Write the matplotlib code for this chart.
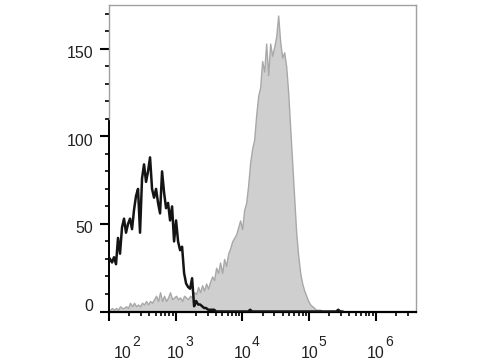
import numpy as np
import matplotlib.pyplot as plt
from matplotlib.transforms import ScaledTranslation

plt.rcParams['font.family'] = ['Liberation Sans', 'DejaVu Sans']

# histogram channels, log10 of intensity at bin centres (2.015, 2.045, ...)
bin_start = 2.015
bin_step = 0.03

# unstained control (black outline)
control_counts = [
    30, 28, 31, 27, 42, 33, 48, 53, 45, 50,
    53, 47, 58, 66, 70, 45, 76, 84, 74, 80,
    88, 70, 65, 70, 62, 56, 80, 68, 59, 62,
    52, 60, 40, 52, 40, 35, 37, 22, 16, 14,
    13, 19, 3, 6, 4, 4, 3, 2, 2, 1,
    1, 1, 1, 0, 0, 0, 0, 0, 0, 0,
    0, 0, 0, 0, 0, 0, 0, 0, 0, 0,
    1, 0, 0, 0, 0, 0, 0, 0, 0, 0,
    0, 0, 0, 0, 0, 0, 0, 0, 0, 0,
    0, 0, 0, 0, 0, 0, 0, 0, 0, 0,
    0, 0, 0, 0, 0, 0, 0, 0, 0, 0,
    0, 0, 0, 0, 1, 0, 0,
]

# stained sample (grey filled)
stained_counts = [
    1, 2, 1, 2, 1, 3, 2, 2, 3, 2,
    5, 3, 5, 3, 4, 3, 5, 4, 6, 4,
    6, 5, 7, 9, 6, 11, 6, 9, 6, 8,
    11, 7, 8, 9, 7, 8, 6, 9, 8, 7,
    9, 8, 11, 10, 14, 11, 15, 12, 16, 13,
    17, 20, 18, 25, 22, 28, 22, 30, 26, 33,
    36, 40, 42, 44, 48, 52, 47, 58, 62, 72,
    85, 93, 98, 112, 123, 128, 143, 137, 153, 135,
    153, 146, 151, 157, 169, 154, 145, 148, 140, 125,
    105, 85, 65, 45, 32, 22, 16, 12, 9, 6,
    4, 3, 2, 1, 1, 1, 0,
]

y_major = [0, 50, 100, 150]
y_minor = [10, 20, 30, 40, 60, 70, 80, 90, 110, 120, 130, 140, 160, 170]
decades = [2, 3, 4, 5, 6]


def bin_centres(counts):
    return 10 ** (bin_start + bin_step * np.arange(len(counts)))


def main():
    fig = plt.figure(figsize=(4.8, 3.6), dpi=100)
    ax = fig.add_axes([109 / 480, 1 - 311.5 / 360, 307 / 480, 306.5 / 360])

    xs = bin_centres(stained_counts)
    ax.fill_between(xs, stained_counts, color='#cfcfcf', edgecolor='#a8a8a8',
                    linewidth=1.0, zorder=2)
    xc = bin_centres(control_counts)
    ax.plot(xc, control_counts, color='#141414', linewidth=1.8, zorder=3)

    ax.set_xscale('log')
    ax.set_xlim(10 ** 2, 10 ** 6.6)
    ax.set_ylim(0, 175)

    # frame: grey top/right, black bottom, left black only up to 110
    for side in ('top', 'right'):
        ax.spines[side].set_color('#a0a0a0')
        ax.spines[side].set_linewidth(1.0)
    ax.spines['bottom'].set_color('black')
    ax.spines['bottom'].set_linewidth(1.6)
    ax.spines['left'].set_color('black')
    ax.spines['left'].set_linewidth(1.4)
    ax.spines['left'].set_bounds(0, 110)
    ax.axvline(10 ** 2, ymin=110 / 175, ymax=1, color='#a0a0a0', linewidth=1.0,
               clip_on=False, zorder=4)

    ax.set_xticks([10.0 ** d for d in decades])
    minor = [m * 10.0 ** d for d in range(2, 7) for m in range(2, 10)]
    ax.set_xticks([v for v in minor if v < 10 ** 6.6], minor=True)
    ax.set_yticks(y_major)
    ax.set_yticks(y_minor, minor=True)
    ax.tick_params(which='major', direction='out', length=6.5, width=1.5,
                   color='black', labelbottom=False, labelleft=False)
    ax.tick_params(which='minor', direction='out', length=3.2, width=1.2,
                   color='black', labelbottom=False, labelleft=False)

    def px(dx, dy):
        return ScaledTranslation(dx / 100, dy / 100, fig.dpi_scale_trans)

    # y labels (slightly off their ticks, as in the original)
    ytrans = ax.get_yaxis_transform()
    for v in y_major:
        dy = 5 if v == 0 else -5
        ax.text(0, v, str(v), transform=ytrans + px(-16, dy), ha='right',
                va='center', fontsize=11.5, color='#222222')

    # x labels drawn as "10" plus a raised exponent
    xtrans = ax.get_xaxis_transform()
    for d in decades:
        shift = 14 if d == 2 else 0
        ax.text(10.0 ** d, 0, '10', transform=xtrans + px(shift, -47),
                ha='center', va='baseline', fontsize=11.5, color='#222222')
        ax.text(10.0 ** d, 0, str(d), transform=xtrans + px(shift + 9.5, -34),
                ha='left', va='baseline', fontsize=10, color='#222222')

    fig.savefig('out.png', dpi=100)


if __name__ == '__main__':
    main()
